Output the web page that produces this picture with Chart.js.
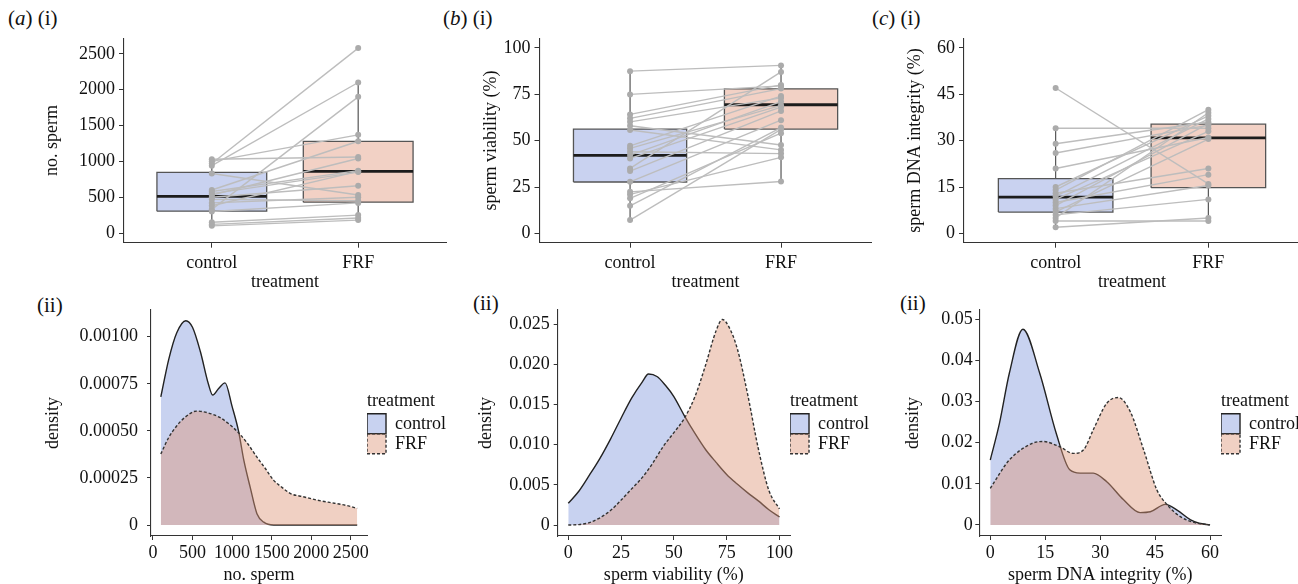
<!DOCTYPE html>
<html>
<head>
<meta charset="utf-8">
<script src="https://cdn.jsdelivr.net/npm/chart.js@4.4.1/dist/chart.umd.min.js"></script>
<style>
html,body{margin:0;padding:0;background:#fff;overflow:hidden;width:1298px;height:584px;position:relative;font-family:'Liberation Serif','Times New Roman',serif;}
canvas{position:absolute;}
.lab{position:absolute;font-size:21px;color:#111;line-height:1;white-space:pre;}
</style>
</head>
<body>
<div class="lab" style="left:8px;top:8px">(<i>a</i>) (i)</div>
<div class="lab" style="left:443px;top:8px">(<i>b</i>) (i)</div>
<div class="lab" style="left:872px;top:8px">(<i>c</i>) (i)</div>
<div class="lab" style="left:37px;top:295px">(ii)</div>
<div class="lab" style="left:473px;top:293px">(ii)</div>
<div class="lab" style="left:900px;top:293px">(ii)</div>

<canvas id="a1" width="450" height="300" style="left:0px;top:0px"></canvas>
<canvas id="b1" width="450" height="300" style="left:430px;top:0px"></canvas>
<canvas id="c1" width="444" height="300" style="left:860px;top:0px"></canvas>
<canvas id="a2" width="460" height="300" style="left:0px;top:290px"></canvas>
<canvas id="b2" width="460" height="300" style="left:430px;top:290px"></canvas>
<canvas id="c2" width="450" height="300" style="left:860px;top:290px"></canvas>

<script>
// ---------- categories ----------
const groups = ['control', 'FRF'];

// ---------- tick values ----------
const spermTicks = [0, 500, 1000, 1500, 2000, 2500];
const viabTicks = [0, 25, 50, 75, 100];
const dnaTicks = [0, 15, 30, 45, 60];
const spermDensTicks = [0, 0.00025, 0.0005, 0.00075, 0.001];
const viabDensTicks = [0, 0.005, 0.01, 0.015, 0.02, 0.025];
const dnaDensTicks = [0, 0.01, 0.02, 0.03, 0.04, 0.05];

// ---------- (a) number of sperm: paired values per male ----------
const spermControl = [1030, 1000, 970, 940, 830, 600, 580, 550, 530, 500, 470, 420, 380, 330, 300, 150, 120, 100];
const spermFRF     = [1060, 1370, 2580, 2100, 530, 1280, 870, 850, 1040, 660, 450, 500, 860, 1900, 420, 250, 210, 180];
// box stats: [lower whisker, q1, median, q3, upper whisker]
const spermBoxControl = [100, 305, 510, 845, 1030];
const spermBoxFRF     = [180, 430, 860, 1280, 2100];

// ---------- (b) sperm viability (%) ----------
const viabControl = [87.4, 74.9, 64.1, 62.0, 60.1, 58.0, 55.7, 47.2, 45.8, 44.0, 42.2, 40.4, 35.0, 33.6, 27.8, 22.4, 21.0, 18.9, 14.9, 7.2];
const viabFRF     = [90.5, 79.5, 80.0, 78.0, 73.0, 47.6, 45.0, 74.0, 69.0, 43.0, 71.0, 68.0, 87.0, 66.0, 61.0, 28.0, 41.0, 54.0, 57.0, 56.0];
const viabBoxControl = [7.2, 27.7, 42.0, 56.2, 87.4];
const viabBoxFRF     = [27.8, 56.2, 69.3, 77.9, 90.5];

// ---------- (c) sperm DNA integrity (%) ----------
const dnaControl = [47, 34, 29, 26, 21, 15, 14, 13, 12, 11, 10, 9, 8, 7, 6, 5, 4, 2];
const dnaFRF     = [16, 34, 36, 35, 31, 38, 40, 21, 37, 33, 19, 35.5, 15.5, 30.5, 11, 39, 4, 5];
const dnaBoxControl = [1.6, 6.9, 11.7, 17.7, 34];
const dnaBoxFRF     = [3.8, 14.8, 30.9, 35.3, 40];

// ---------- density curves ----------
const spermDensCtrlX = [100, 200, 300, 416, 500, 600, 700, 755, 830, 911, 1000, 1081, 1150, 1229, 1314, 1400, 1526, 2000, 2580];
const spermDensCtrlY = [0.00068, 0.00088, 0.00102, 0.001085, 0.00105, 0.00092, 0.00075, 0.00069, 0.000725, 0.000755, 0.00063, 0.0005, 0.00034, 0.0002, 0.00006, 0.000015, 0, 0, 0];
const spermDensFRFX  = [100, 200, 300, 400, 551, 700, 850, 950, 1081, 1200, 1314, 1420, 1526, 1630, 1738, 1900, 2077, 2230, 2373, 2480, 2580];
const spermDensFRFY  = [0.000377, 0.000465, 0.000526, 0.00057, 0.000605, 0.000595, 0.00057, 0.00054, 0.00049, 0.00043, 0.00036, 0.0003, 0.000237, 0.0002, 0.000167, 0.00015, 0.000132, 0.00012, 0.00011, 0.0001, 0.000088];

const viabDensCtrlX = [0, 5, 10, 15, 20, 25, 30, 35, 38, 42, 46, 50, 55, 60, 65, 70, 75, 80, 85, 90, 95, 100];
const viabDensCtrlY = [0.0027, 0.0042, 0.0062, 0.0083, 0.0107, 0.0133, 0.0158, 0.0178, 0.0188, 0.0185, 0.0174, 0.0160, 0.0136, 0.0114, 0.0094, 0.0078, 0.0063, 0.0051, 0.0040, 0.0030, 0.0019, 0.0010];
const viabDensFRFX  = [0, 5, 10, 15, 20, 25, 30, 35, 40, 45, 50, 55, 60, 65, 70, 73, 76, 80, 85, 90, 95, 100];
const viabDensFRFY  = [0, 0.00005, 0.0003, 0.0009, 0.0018, 0.0031, 0.0045, 0.0059, 0.0077, 0.0098, 0.0115, 0.0133, 0.0160, 0.0199, 0.0242, 0.0256, 0.0247, 0.0220, 0.0162, 0.0095, 0.0043, 0.0020];

const dnaDensCtrlX = [0, 2.5, 5.2, 8.9, 13.5, 18, 21.7, 24.5, 28.1, 31.8, 36.4, 40.9, 43.7, 47.8, 51, 54.7, 57, 60];
const dnaDensCtrlY = [0.0158, 0.0247, 0.0369, 0.0476, 0.0369, 0.0223, 0.0134, 0.0126, 0.0126, 0.0105, 0.0061, 0.0030, 0.0032, 0.0050, 0.0036, 0.0012, 0.0004, 0];
const dnaDensFRFX  = [0, 5.2, 11.6, 14.4, 19, 22.6, 25.4, 28.1, 31.8, 35, 38.2, 41.9, 45.5, 48.3, 51.9, 55.6, 60];
const dnaDensFRFY  = [0.0089, 0.0158, 0.0199, 0.0203, 0.0190, 0.0174, 0.0182, 0.0231, 0.0296, 0.0310, 0.0276, 0.0182, 0.0085, 0.0049, 0.0020, 0.0006, 0];

// ---------- styling ----------
Chart.defaults.font.family = "'Liberation Serif', 'Times New Roman', serif";
Chart.defaults.font.size = 18;
Chart.defaults.color = '#111';
Chart.defaults.animation = false;

const TXT = '#111';
const AXC = '#333';
const BOX_FILL = ['#c9d2f0', '#f2d1c5'];
const DENS_FILL = ['rgba(133,155,222,0.45)', 'rgba(222,151,122,0.45)'];

function pts(xs, ys) { return xs.map((x, i) => ({x: x, y: ys[i]})); }

function axis(o) {
  return {
    type: 'linear',
    min: o.min, max: o.max,
    afterBuildTicks: s => { s.ticks = o.ticks.map(v => ({value: v})); },
    ticks: {
      autoSkip: false, maxRotation: 0, minRotation: 0,
      padding: o.pad, color: TXT, font: {size: 18}, callback: o.cb
    },
    grid: {display: true, drawOnChartArea: false, drawTicks: true, tickLength: o.tl, color: AXC, lineWidth: 1},
    border: {display: true, color: AXC, width: 1.1},
    title: {display: true, text: o.title, color: TXT, font: {size: 18}, padding: o.tpad},
    afterFit: o.fit
  };
}

function boxChart(id, o) {
  const half = 0.375;
  const pos = groups.map((g, i) => i + 1);
  const ds = [];
  [o.boxC, o.boxF].forEach((b, gi) => {
    const x = pos[gi];
    ds.push({data: [{x: x, y: b[0]}, {x: x, y: b[4]}], showLine: true, borderColor: '#555', borderWidth: 1.2, pointRadius: 0, order: 3});
    ds.push({data: [{x: x - half, y: b[1]}, {x: x + half, y: b[1]}, {x: x + half, y: b[3]}, {x: x - half, y: b[3]}, {x: x - half, y: b[1]}],
      showLine: true, fill: 'shape', backgroundColor: BOX_FILL[gi], borderColor: '#555', borderWidth: 1.3,
      borderJoinStyle: 'miter', pointRadius: 0, order: 2});
    ds.push({data: [{x: x - half, y: b[2]}, {x: x + half, y: b[2]}], showLine: true, borderColor: '#1c1c1c', borderWidth: 2.8, pointRadius: 0, order: 1});
  });
  o.ctrl.forEach((c, i) => {
    ds.push({data: [{x: pos[0], y: c}, {x: pos[1], y: o.frf[i]}], showLine: true, borderColor: '#bdbdbd', borderWidth: 1.4,
      pointRadius: 3, pointBackgroundColor: '#ababab', pointBorderWidth: 0, order: 0});
  });
  new Chart(document.getElementById(id), {
    type: 'scatter',
    data: {datasets: ds},
    options: {
      responsive: false, animation: false,
      layout: {padding: {left: 0, top: 38.5, right: o.rpad, bottom: 0}},
      plugins: {legend: {display: false}, tooltip: {enabled: false}},
      scales: {
        x: axis({min: 0.4, max: 2.6, ticks: pos, pad: 4.5, tl: 5, title: 'treatment', tpad: {top: 0, bottom: 6.5},
          cb: v => groups[Math.round(v) - 1] || '', fit: s => { s.height = 57.3; }}),
        y: axis({min: o.ymin, max: o.ymax, ticks: o.yticks, pad: 4, tl: 5, title: o.ytitle, tpad: {top: o.ytpad, bottom: 0},
          cb: v => String(Math.round(v)), fit: s => { s.width = o.yw; }})
      }
    }
  });
}

function densChart(id, o) {
  new Chart(document.getElementById(id), {
    type: 'scatter',
    data: {datasets: [
      {label: groups[0], data: pts(o.cx, o.cy), showLine: true, fill: 'origin', backgroundColor: DENS_FILL[0],
       borderColor: '#222', borderWidth: 1.4, pointRadius: 0, cubicInterpolationMode: 'monotone', order: 1},
      {label: groups[1], data: pts(o.fx, o.fy), showLine: true, fill: 'origin', backgroundColor: DENS_FILL[1],
       borderColor: '#333', borderWidth: 1.4, borderDash: [3, 2], pointRadius: 0, cubicInterpolationMode: 'monotone', order: 0}
    ]},
    options: {
      responsive: false, animation: false,
      layout: {padding: {left: 0, top: 20, right: o.rpad, bottom: 0}},
      plugins: {
        tooltip: {enabled: false},
        legend: {
          display: true, position: 'right', align: 'center', fullSize: false,
          title: {display: true, text: 'treatment', position: 'start', color: TXT, font: {size: 18}, padding: 0},
          labels: {boxWidth: 19, boxHeight: 20, padding: 0, color: TXT, font: {size: 18},
                   sort: (a, b) => a.datasetIndex - b.datasetIndex}
        }
      },
      scales: {
        x: axis({min: o.xmin, max: o.xmax, ticks: o.xticks, pad: 2.5, tl: 4, title: o.xtitle, tpad: {top: 0, bottom: 4.2},
          cb: v => String(Math.round(v)), fit: s => { s.height = 54; }}),
        y: axis({min: o.ymin, max: o.ymax, ticks: o.yticks, pad: o.ypad, tl: 4, title: 'density', tpad: {top: o.ytpad, bottom: 0},
          cb: v => (Math.abs(v) < 1e-12 ? '0' : v.toFixed(o.dec)), fit: s => { s.width = o.yw; }})
      }
    }
  });
}

// ---------- top row ----------
boxChart('a1', {ctrl: spermControl, frf: spermFRF, boxC: spermBoxControl, boxF: spermBoxFRF, yticks: spermTicks,
  ymin: -135, ymax: 2714, ytitle: 'no. sperm', ytpad: 41.2, yw: 124, rpad: 3});
boxChart('b1', {ctrl: viabControl, frf: viabFRF, boxC: viabBoxControl, boxF: viabBoxFRF, yticks: viabTicks,
  ymin: -5, ymax: 105, ytitle: 'sperm viability (%)', ytpad: 50.9, yw: 109.5, rpad: 8.4});
boxChart('c1', {ctrl: dnaControl, frf: dnaFRF, boxC: dnaBoxControl, boxF: dnaBoxFRF, yticks: dnaTicks,
  ymin: -3, ymax: 63, ytitle: 'sperm DNA integrity (%)', ytpad: 44.2, yw: 104, rpad: 0.5});

// ---------- bottom row ----------
densChart('a2', {cx: spermDensCtrlX, cy: spermDensCtrlY, fx: spermDensFRFX, fy: spermDensFRFY,
  xmin: -24, xmax: 2704, xticks: spermTicks, xtitle: 'no. sperm', yticks: spermDensTicks,
  ymin: -0.0000584, ymax: 0.0011418, dec: 5, ypad: 9, ytpad: 42.5, yw: 151, rpad: 4});
densChart('b2', {cx: viabDensCtrlX, cy: viabDensCtrlY, fx: viabDensFRFX, fy: viabDensFRFY,
  xmin: -5, xmax: 105, xticks: viabTicks, xtitle: 'sperm viability (%)', yticks: viabDensTicks,
  ymin: -0.00137, ymax: 0.02678, dec: 3, ypad: 4, ytpad: 45.9, yw: 127.7, rpad: 11});
densChart('c2', {cx: dnaDensCtrlX, cy: dnaDensCtrlY, fx: dnaDensFRFX, fy: dnaDensFRFY,
  xmin: -3, xmax: 63, xticks: dnaTicks, xtitle: 'sperm DNA integrity (%)', yticks: dnaDensTicks,
  ymin: -0.0027, ymax: 0.0523, dec: 2, ypad: 2.5, ytpad: 42.5, yw: 119.3, rpad: 0});
</script>
</body>
</html>
